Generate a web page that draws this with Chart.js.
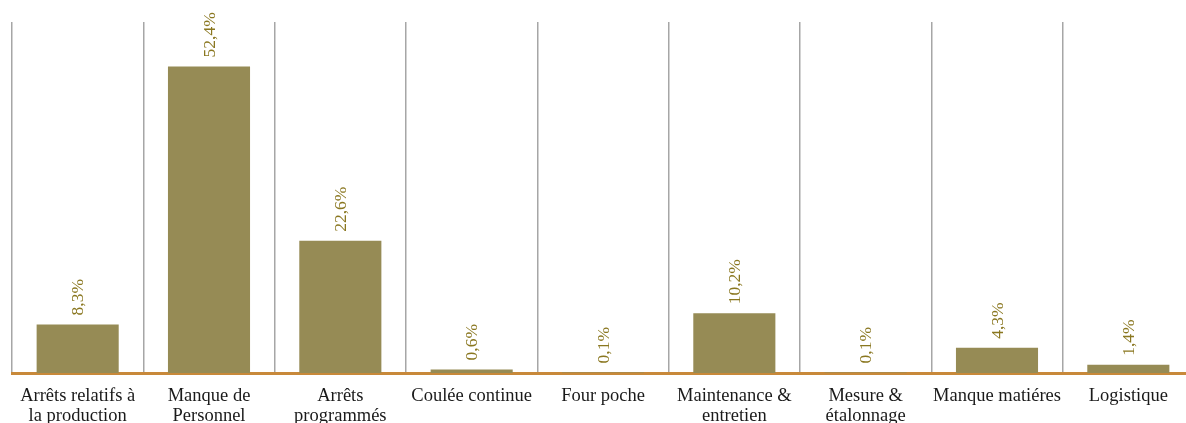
<!DOCTYPE html>
<html>
<head>
<meta charset="utf-8">
<script src="https://cdn.jsdelivr.net/npm/chart.js@4.4.0/dist/chart.umd.min.js"></script>
<style>
  html, body { margin:0; padding:0; background:#fff; overflow:hidden; }
  #wrap { width:1200px; height:423px; position:relative; }
</style>
</head>
<body>
<div id="wrap"><canvas id="c"></canvas></div>
<script>
const categories = [
  ["Arrêts relatifs à", "la production"],
  ["Manque de", "Personnel"],
  ["Arrêts", "programmés"],
  "Coulée continue",
  "Four poche",
  ["Maintenance &", "entretien"],
  ["Mesure &", "étalonnage"],
  "Manque matiéres",
  "Logistique"
];
const values = [8.3, 52.4, 22.6, 0.6, 0.1, 10.2, 0.1, 4.3, 1.4];
const valueLabels = ["8,3%", "52,4%", "22,6%", "0,6%", "0,1%", "10,2%", "0,1%", "4,3%", "1,4%"];

const rotatedLabels = {
  id: 'rotatedLabels',
  afterDatasetsDraw(chart) {
    const ctx = chart.ctx;
    const meta = chart.getDatasetMeta(0);
    ctx.save();
    ctx.fillStyle = '#8a7720';
    ctx.font = '17.5px "Liberation Serif", serif';
    ctx.textAlign = 'left';
    ctx.textBaseline = 'middle';
    meta.data.forEach((bar, i) => {
      ctx.save();
      ctx.translate(bar.x + 1, bar.y - 9);
      ctx.rotate(-Math.PI / 2);
      ctx.fillText(valueLabels[i], 0, 0);
      ctx.restore();
    });
    ctx.restore();
  }
};

new Chart(document.getElementById('c'), {
  type: 'bar',
  data: {
    labels: categories,
    datasets: [{
      data: values,
      backgroundColor: '#968b55',
      borderWidth: 0,
      barPercentage: 0.625,
      categoryPercentage: 1.0
    }]
  },
  options: {
    responsive: true,
    maintainAspectRatio: false,
    animation: false,
    layout: { padding: { left: 12, right: 6, top: 22, bottom: 0 } },
    plugins: { legend: { display: false }, tooltip: { enabled: false } },
    scales: {
      x: {
        grid: { display: true, offset: true, color: '#a6a6a6', lineWidth: 1.5, drawTicks: false },
        border: { display: true, color: '#c8893a', width: 3 },
        ticks: {
          color: '#1a1a1a',
          font: { family: '"Liberation Serif", serif', size: 18.5, lineHeight: 1.08 },
          maxRotation: 0, autoSkip: false, padding: 13
        },
        afterFit(scale) { scale.height = 50; }
      },
      y: {
        display: false,
        min: 0, max: 60
      }
    }
  },
  plugins: [rotatedLabels]
});
</script>
</body>
</html>
